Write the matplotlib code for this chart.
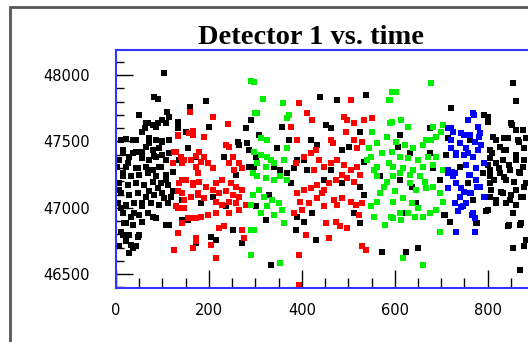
import matplotlib
matplotlib.use('Agg')
import matplotlib.pyplot as plt
from matplotlib.patches import Rectangle
from matplotlib.ticker import MultipleLocator

# time, detector counts (grouped by colour)
black_t = [103, 82, 90, 159, 194, 49, 109, 115, 100, 90, 79, 68, 63, 57, 133, 201, 280, 290, 151,
           11, 22, 36, 72, 86, 100, 115, 262, 265, 283, 287, 65, 79, 93, 43, 29, 14, 7, 57, 72, 86,
           100, 108, 154, 172, 233, 287, 2, 22, 43, 65, 79, 97,
           14, 32, 50, 68, 86, 108, 122, 7, 25, 43, 61, 79, 97, 111, 11, 29, 47, 65, 82, 100, 118,
           4, 22, 39, 57, 75, 93, 111, 14, 32, 50, 68, 86, 18, 36, 57, 11, 29, 47, 22, 7, 36, 29, 43,
           115, 143, 183, 208, 215, 204, 251, 272, 258, 237,
           65, 86, 108, 133, 43, 72, 100, 14, 36, 57, 82, 115, 136, 25, 47, 68, 93, 14, 108, 90, 72,
           7, 29, 104, 122, 57, 11, 39, 79, 108, 22, 50, 14, 32, 143, 154, 172,
           440, 476, 537, 451, 462, 358, 372, 308, 419, 433, 487, 501, 526, 347, 390, 405, 301, 297,
           340, 354, 383, 412, 462, 534,
           329, 301, 322, 376, 369, 387, 405, 430, 422, 390, 512, 526, 534, 569, 573, 333, 526, 487, 448,
           854, 861, 722, 793, 801, 851, 861, 811, 836, 865, 883, 826, 840, 804, 761, 714, 611, 675,
           607, 632, 675, 711, 804, 818, 833, 861, 876, 804, 847, 740, 682, 879,
           611, 636, 646, 621, 707, 718, 697, 758, 768, 775, 797, 804, 818, 833, 847, 861, 876, 883,
           840, 804, 826, 790, 869, 854, 844, 869, 883, 854, 879, 625, 650, 869, 804,
           800, 853, 875, 817, 843, 868, 810, 835, 860, 878, 800, 825, 846, 868, 814, 835, 857, 878,
           807, 828, 850, 871, 817, 839, 860, 800, 778, 846, 871, 706, 764]
black_v = [48014, 47839, 47818, 47763, 47808, 47700, 47725, 47688, 47663, 47638, 47625, 47638, 47600,
           47575, 47650, 47612, 47600, 47663, 47575, 47512, 47517, 47512, 47524, 47512, 47499, 47512,
           47499, 47474, 47487, 47436, 47462, 47436, 47449, 47424, 47386, 47411, 47361, 47374, 47361,
           47386, 47399, 47361, 47449, 47386, 47386, 47311, 47311, 47311, 47298, 47311, 47286, 47311,
           47261, 47236, 47248, 47261, 47236, 47248, 47273, 47185, 47173, 47185, 47173, 47198, 47185,
           47173, 47110, 47098, 47110, 47085, 47098, 47110, 47085, 47035, 47022, 47035, 47010, 47035,
           47022, 47035, 46959, 46934, 46947, 46959, 46922, 46884, 46871, 46896, 46821, 46796, 46783,
           46746, 46708, 46695, 46658, 46713,
           46871, 46909, 47035, 47085, 46758, 46783, 46834, 46733, 47248, 47010,
           47638, 47613, 47638, 47600, 47512, 47487, 47500, 47437, 47412, 47424, 47387, 47412, 47361,
           47336, 47299, 47286, 47311, 47236, 47211, 47148, 47123, 47135, 47098, 47072, 47123, 47035,
           46997, 46959, 46934, 46871, 46884, 46796, 46796, 46721, 47060, 46909, 46733,
           47839, 47813, 47851, 47625, 47600, 47612, 47512, 47550, 47512, 47474, 47436, 47462, 47575,
           47449, 47361, 47361, 47386, 47311, 47311, 47286, 47298, 47286, 47286, 47349,
           47098, 47010, 46909, 47185, 47261, 46834, 46896, 46758, 46959, 46934, 46959, 46884, 47098,
           47236, 46670, 46570, 47160, 47185, 47211,
           47944, 47808, 47751, 47700, 47650, 47638, 47587, 47537, 47524, 47512, 47524, 47462, 47436,
           47436, 47512, 47524, 47550, 47600, 47462, 47411, 47411, 47399, 47374, 47336, 47361, 47361,
           47311, 47286, 47286, 47311, 47298, 47449,
           47211, 47160, 47035, 46959, 46947, 46896, 47211, 47185, 47060, 46884, 46972, 47085, 47035,
           47110, 47060, 47135, 47085, 47185, 47211, 47185, 47261, 47261, 47261, 46959, 46859, 46871,
           46758, 46695, 46708, 46670, 46695, 46532, 47236,
           47688, 47625, 47587, 47512, 47524, 47499, 47411, 47436, 47399, 47361, 47323, 47298, 47323,
           47273, 47210, 47235, 47198, 47160, 47135, 47122, 47097, 47085, 47060, 47034, 47022, 46984,
           46884, 46871, 46884, 46946, 47110]

red_t = [159, 208, 240, 165, 166, 133, 190, 237, 244, 125, 140, 147, 122, 179, 190, 183, 172, 197,
         208, 251, 244, 265, 272, 255,
         136, 151, 165, 179, 194, 143, 161, 176, 190, 208, 222, 237, 251, 265, 215, 229, 247, 258,
         272, 215, 229, 244, 129, 147, 165, 183, 197, 143, 154, 133, 172, 165, 204, 215, 125, 222,
         233, 272, 276, 265, 280, 215, 244, 258,
         133, 158, 129, 143, 161, 172, 176, 143, 165, 133, 147, 176, 133, 172, 125, 172,
         394, 505, 412, 422, 376, 390, 462, 466, 491, 498, 494, 512, 534, 552, 512, 530, 519, 405,
         419, 430, 437, 448, 462, 476, 491, 505, 519, 426, 387,
         390, 405, 419, 433, 448, 458, 473, 487, 498, 512, 526, 397, 415, 433, 444, 469, 487, 505,
         516, 530, 448, 476, 383, 401, 451, 473, 483, 523, 530, 537, 408, 458, 394, 394, 498]
red_v = [47725, 47683, 47630, 47582, 47550, 47542, 47532, 47474, 47462, 47424, 47386, 47361, 47336,
         47424, 47386, 47349, 47311, 47336, 47298, 47386, 47336, 47336, 47298, 47286,
         47185, 47211, 47173, 47198, 47160, 47110, 47085, 47098, 47072, 47135, 47110, 47123, 47098,
         47085, 47185, 47211, 47185, 47160, 47135, 47047, 47022, 47047, 47010, 46997, 46922, 46934,
         46947, 46884, 46922, 46809, 46746, 46695, 46721, 46620, 46683, 46846, 46859, 46834, 46771,
         46984, 47022, 46959, 46959, 47035,
         47550, 47562, 47424, 47336, 47361, 47387, 47261, 47211, 47186, 47123, 47060, 47110, 46997,
         46922, 46683, 46771,
         47793, 47813, 47713, 47663, 47612, 47512, 47512, 47487, 47688, 47663, 47575, 47638, 47663,
         47675, 47512, 47499, 47449, 47386, 47411, 47436, 47361, 47311, 47336, 47361, 47323, 47286,
         47311, 47286, 47336,
         47110, 47135, 47148, 47173, 47135, 47185, 47211, 47248, 47223, 47198, 47248, 47047, 47035,
         47072, 47110, 47060, 47072, 47047, 47022, 47035, 47010, 47022, 46959, 46984, 46884, 46896,
         46859, 46947, 46708, 46683, 46796, 46771, 46645, 46419, 46846]

green_t = [290, 300, 294, 294, 290, 290, 290,
           297, 317, 360, 304, 369, 372, 311, 326, 297, 311, 326, 333, 304, 322, 340, 362, 369, 595,
           587, 595, 552, 584, 562, 544, 548, 541, 562, 555, 573, 587,
           304, 322, 340, 354, 369, 308, 319, 336, 351, 326, 311, 340, 358, 362, 297, 354, 548, 562,
           569, 577, 584, 591, 580, 555, 562,
           679, 602, 589, 614, 628, 589, 682, 704, 700, 668, 679, 689, 661, 603, 621, 639, 593, 611,
           628, 650, 671, 689, 596, 618, 639, 661, 682, 704,
           596, 611, 632, 654, 664, 668, 682, 697, 704, 689, 675, 650, 636, 618, 600, 596, 611, 614,
           596, 628, 643, 661, 697, 618, 661, 632, 646]
green_v = [47959, 47713, 47261, 47098, 47022, 46834, 46645,
           47952, 47818, 47788, 47713, 47675, 47700, 47524, 47512, 47424, 47399, 47386, 47361, 47336,
           47311, 47336, 47361, 47449, 47876, 47813, 47650, 47575, 47537, 47487, 47449, 47386, 47361,
           47311, 47286, 47411, 47336,
           47236, 47223, 47211, 47236, 47211, 47135, 47085, 47060, 47035, 47010, 46959, 46947, 46984,
           46884, 46834, 46582, 47010, 47047, 47110, 47160, 47198, 46934, 46871, 46934, 47236,
           47944, 47876, 47813, 47663, 47612, 47638, 47612, 47625, 47575, 47512, 47512, 47537, 47474,
           47499, 47474, 47449, 47424, 47386, 47374, 47361, 47386, 47386, 47311, 47298, 47286, 47311,
           47323, 47286,
           47236, 47261, 47248, 47236, 47198, 47148, 47160, 47110, 47047, 46984, 46959, 46997, 47035,
           47072, 47123, 47047, 46959, 46909, 46922, 46959, 46934, 46934, 46814, 46620, 46570, 47185,
           47135]

blue_t = [768, 758, 714, 725, 743, 761, 779, 783, 722, 740, 754, 772, 779, 786, 722, 732, 750, 768,
          793, 714, 729, 754, 775,
          714, 725, 732, 743, 761, 740, 729, 747, 768, 772, 736, 714, 783, 793, 761, 775, 732, 772, 754,
          771, 721, 749, 782, 731, 757, 792, 724, 760, 778, 749, 742, 767]
blue_v = [47713, 47663, 47600, 47575, 47562, 47550, 47612, 47562, 47512, 47487, 47449, 47499, 47436,
          47474, 47449, 47399, 47399, 47386, 47336, 47286, 47261, 47323, 47298,
          47261, 47236, 47185, 47148, 47110, 47085, 47035, 47010, 46959, 46922, 46972, 47148, 47160,
          47085, 47248, 47211, 46814, 46814, 47035,
          47700, 47600, 47550, 47537, 47411, 47411, 47336, 47273, 47248, 47160, 47122, 47009, 46946]

fig = plt.figure(figsize=(5.28, 3.42), dpi=100)
fig.patches.append(Rectangle((10 / 528, -0.2), 1.2, 1.2 - 6.5 / 342, transform=fig.transFigure,
                             fill=False, edgecolor='#555555', linewidth=2))

ax = fig.add_axes([116 / 528, 54 / 342, 460 / 528, 238 / 342])
sq = dict(marker='s', s=16, linewidths=0)
ax.scatter(black_t, black_v, color='black', **sq)
ax.scatter(red_t, red_v, color='#ff0000', **sq)
ax.scatter(green_t, green_v, color='#00ee00', **sq)
ax.scatter(blue_t, blue_v, color='#0000ff', **sq)

ax.set_xlim(0, 990)
ax.set_ylim(46395, 48190)
ax.xaxis.set_major_locator(MultipleLocator(200))
ax.xaxis.set_minor_locator(MultipleLocator(50))
ax.yaxis.set_major_locator(MultipleLocator(500))
ax.yaxis.set_minor_locator(MultipleLocator(100))
ax.tick_params(axis='x', which='major', direction='in', length=13, width=1, pad=11, labelsize=10.5)
ax.tick_params(axis='x', which='minor', direction='in', length=7, width=1)
ax.tick_params(axis='y', which='major', direction='in', length=12, width=1, pad=19, labelsize=10.5)
ax.tick_params(axis='y', which='minor', direction='in', length=6, width=1)
for s in ['left', 'top', 'bottom']:
    ax.spines[s].set_color('#3333ff')
    ax.spines[s].set_linewidth(1.5)
ax.spines['right'].set_visible(False)

fig.text(311 / 528, 1 - 44 / 342, 'Detector 1 vs. time', ha='center', va='baseline',
         fontsize=20.5, fontweight='bold', family='Liberation Serif')

plt.savefig('out.png', dpi=100)
